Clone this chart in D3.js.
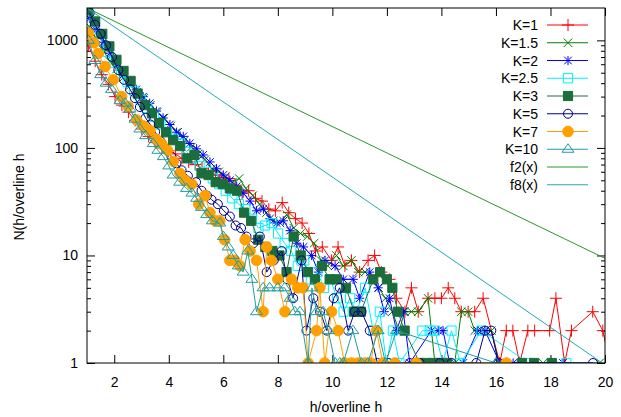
<!DOCTYPE html>
<html>
<head>
<meta charset="utf-8">
<script src="https://cdn.jsdelivr.net/npm/d3@7"></script>
<style>
  body { margin: 0; background: #fff; }
  text { font-family: "Liberation Sans", Arial, sans-serif; font-size: 14px; fill: #000; }
</style>
</head>
<body>
<div id="chart"></div>
<script>
// data: [h/overline h, N] pairs, zero bins left out
var k1 = [[1.05,900],[1.30,640],[1.54,480],[1.79,390],[2.03,300],[2.28,250],[2.52,215],[2.77,180],[3.01,150],[3.26,128],[3.50,112],[3.75,100],[3.99,94],[4.24,88],[4.48,80],[4.73,74],[4.97,70],[5.22,64],[5.46,58],[5.71,56],[5.95,53],[6.20,52],[6.44,45],[6.69,38],[6.93,40],[7.18,34],[7.42,32],[7.67,27],[7.91,26],[8.16,31],[8.40,25],[8.65,22],[8.89,20],[9.14,16],[9.38,11],[9.63,12],[9.97,9],[10.21,12],[10.46,8],[10.70,9],[11.00,7],[11.31,9],[11.55,10],[11.80,7],[12.10,6],[12.35,4],[12.66,3],[12.90,5],[13.15,3],[13.51,4],[13.76,4],[14.00,4],[14.25,5],[14.49,4],[14.73,3],[14.98,3],[15.22,3],[15.53,4],[16.14,1],[16.38,2],[16.62,2],[16.87,1],[17.17,2],[17.42,2],[17.97,2],[18.20,4],[18.52,1],[18.77,2],[19.55,3],[19.92,2],[20.17,1]];
var k15 = [[1.08,1350],[1.33,1050],[1.58,820],[1.83,640],[2.08,540],[2.33,450],[2.58,380],[2.83,330],[3.08,290],[3.33,250],[3.58,215],[3.83,190],[4.08,160],[4.33,140],[4.58,118],[4.83,102],[5.08,88],[5.33,78],[5.58,64],[5.83,60],[6.08,54],[6.33,48],[6.58,52],[6.83,42],[7.08,36],[7.33,30],[7.58,25],[7.83,21],[8.08,20],[8.33,24],[8.58,18],[8.83,16],[9.08,15],[9.33,13],[9.58,9],[9.83,8],[10.15,10],[10.40,8],[10.70,9],[10.95,7],[11.20,7],[11.45,6],[11.70,5],[11.95,4],[12.20,3],[12.45,2],[12.65,3],[12.90,3],[13.15,3],[13.51,4],[13.76,1],[14.49,1],[14.73,3],[14.98,3],[15.22,2],[15.47,2],[15.83,2],[16.10,1],[17.73,1],[19.80,1]];
var k2 = [[1.10,1600],[1.34,1250],[1.59,960],[1.83,760],[2.08,600],[2.32,500],[2.57,420],[2.81,350],[3.06,300],[3.30,260],[3.55,220],[3.79,190],[4.04,165],[4.28,140],[4.53,128],[4.77,110],[5.02,98],[5.26,86],[5.51,74],[5.75,64],[6.00,56],[6.24,50],[6.49,44],[6.73,38],[6.98,32],[7.22,26],[7.47,27],[7.71,22],[7.96,20],[8.20,21],[8.45,17],[8.69,13],[8.94,12],[9.24,10],[9.49,7],[9.73,9],[10.10,8],[10.40,6],[10.76,6],[11.00,4],[11.37,7],[11.68,5],[11.90,3],[12.10,4],[12.35,2],[12.60,3],[12.84,1],[13.63,2],[13.88,2],[14.06,2],[14.30,1],[14.80,1],[15.33,2],[15.60,2],[16.14,1],[16.63,1],[18.46,1]];
var k25 = [[1.05,1700],[1.29,1300],[1.53,1000],[1.77,780],[2.01,620],[2.25,500],[2.49,410],[2.73,340],[2.97,280],[3.21,235],[3.45,195],[3.69,165],[3.93,140],[4.17,122],[4.41,110],[4.65,92],[4.89,80],[5.13,68],[5.37,60],[5.61,52],[5.85,46],[6.09,40],[6.33,34],[6.57,30],[6.81,27],[7.05,22],[7.29,18],[7.53,19],[7.77,20],[8.01,16],[8.25,13],[8.49,11],[8.73,8],[8.97,9],[9.21,6],[9.45,7],[9.69,5],[9.93,6],[10.17,4],[10.41,3],[10.65,4],[10.89,3],[11.20,5],[11.50,2],[11.74,3],[11.98,1],[12.22,2],[12.46,1],[13.30,2],[13.57,2],[13.76,2],[14.05,1],[14.37,2],[14.70,1],[15.47,2],[17.20,1],[18.58,1]];
var k3 = [[1.04,1900],[1.30,1500],[1.56,1150],[1.82,880],[2.08,660],[2.34,520],[2.60,420],[2.86,320],[3.12,250],[3.38,210],[3.64,170],[3.90,140],[4.16,118],[4.42,104],[4.68,80],[4.94,86],[5.20,58],[5.46,56],[5.72,48],[5.98,46],[6.24,42],[6.50,40],[6.76,25],[7.02,21],[7.28,14],[7.54,12],[7.80,11],[8.06,10],[8.32,7],[8.58,15],[8.84,10],[9.10,7],[9.36,6],[9.62,8],[9.90,6],[10.16,6],[10.50,5],[10.80,3],[11.05,3],[11.50,6],[11.75,7],[12.00,6],[12.20,5],[12.40,3],[12.65,2],[13.20,1],[13.45,1],[13.70,1],[13.95,1],[14.20,1],[16.95,1],[17.40,1],[18.05,1]];
var k5 = [[1.10,1800],[1.29,1400],[1.50,1150],[1.70,900],[1.92,700],[2.15,530],[2.36,430],[2.58,350],[2.76,290],[2.94,240],[3.15,190],[3.32,165],[3.50,141],[3.70,115],[3.90,98],[4.10,83],[4.28,72],[4.47,62],[4.70,55],[5.00,48],[5.20,40],[5.40,36],[5.57,33],[5.80,30],[6.02,26],[6.24,23],[6.45,19],[6.65,18],[6.85,15],[7.10,13],[7.34,15],[7.59,7],[7.85,9],[8.14,11],[8.35,6],[8.56,4],[8.87,9],[9.05,2],[9.30,4],[9.55,3],[9.80,2],[10.05,4],[10.27,5],[10.58,2],[10.82,3],[11.07,3],[11.37,2],[11.65,1],[12.04,1],[12.84,1],[13.20,1],[13.94,1],[14.37,1],[15.28,1],[15.60,2],[15.83,2],[16.10,1],[19.56,1]];
var k7 = [[1.05,1170],[1.25,950],[1.41,755],[1.66,570],[1.96,430],[2.27,300],[2.51,243],[2.82,182],[3.07,160],[3.31,145],[3.55,120],[3.75,108],[3.95,95],[4.17,75],[4.41,58],[4.59,50],[4.84,46],[5.10,30],[5.33,36],[5.51,25],[5.70,21],[5.87,21],[6.05,14],[6.24,9],[6.42,9],[6.61,8],[6.80,14],[6.98,11],[7.22,9],[7.46,3],[7.59,12],[7.77,9],[8.00,6],[8.26,3],[8.50,6],[8.73,5],[8.93,5],[9.11,1],[9.42,2],[9.54,5],[9.72,1],[9.97,3],[10.21,2],[10.45,1],[10.70,1],[10.95,1],[11.20,1],[11.40,1],[11.62,2],[11.85,1],[12.29,1],[13.08,1],[16.38,1]];
var k10 = [[1.05,1000],[1.29,650],[1.50,480],[1.70,400],[1.90,350],[2.21,275],[2.40,260],[2.58,230],[2.76,185],[2.94,150],[3.15,130],[3.43,110],[3.60,95],[3.80,83],[4.00,68],[4.16,56],[4.40,48],[4.65,42],[4.85,38],[5.02,34],[5.20,28],[5.39,24],[5.60,21],[5.87,20],[6.00,15],[6.18,12],[6.36,10],[6.55,8],[6.73,7],[6.90,11],[7.05,6],[7.22,3],[7.46,5],[7.70,5],[8.00,5],[8.25,5],[8.45,4],[8.62,3],[8.81,3],[9.11,1],[9.25,5],[9.42,3],[9.66,3],[9.85,2],[10.10,1],[10.27,1],[10.40,1],[10.75,2],[11.07,1],[11.30,1],[11.68,2],[11.95,1],[12.35,2],[16.00,1]];
var f2 = [[1,2000],[20,9.4]];
var f8 = [[1,2000],[20,0.96]];

var seriesLabels = ["K=1", "K=1.5", "K=2", "K=2.5", "K=3", "K=5", "K=7", "K=10", "f2(x)", "f8(x)"];
var xTicks = [2, 4, 6, 8, 10, 12, 14, 16, 18, 20];
var yTicks = [1, 10, 100, 1000];
var yMinor = [2,3,4,5,6,7,8,9,20,30,40,50,60,70,80,90,200,300,400,500,600,700,800,900];

var svgWidth = 621;
var svgHeight = 417;
var margin = { top: 8, right: 16, bottom: 54, left: 87 };
var width = svgWidth - margin.left - margin.right;
var height = svgHeight - margin.top - margin.bottom;

// marker shapes (gnuplot point types 1..8)
var shapes = {
  plus: "M-6,0H6M0,-6V6",
  cross: "M-4.2,-4.2L4.2,4.2M-4.2,4.2L4.2,-4.2",
  star: "M-4.6,0H4.6M0,-4.6V4.6M-3.8,-3.8L3.8,3.8M-3.8,3.8L3.8,-3.8",
  square: "M-4.6,-4.6H4.6V4.6H-4.6Z",
  circle: "M4.5,0A4.5,4.5 0 1,1 -4.5,0A4.5,4.5 0 1,1 4.5,0Z",
  dot: "M5.3,0A5.3,5.3 0 1,1 -5.3,0A5.3,5.3 0 1,1 5.3,0Z",
  triangle: "M0,-5.5L6,3L-6,3Z"
};

var series = [
  { data: k1, color: "#ff0000", shape: "plus", fill: false },
  { data: k15, color: "#008000", shape: "cross", fill: false },
  { data: k2, color: "#0000ff", shape: "star", fill: false },
  { data: k25, color: "#00f0ff", shape: "square", fill: false },
  { data: k3, color: "#1b6e3c", shape: "square", fill: true },
  { data: k5, color: "#00008b", shape: "circle", fill: false },
  { data: k7, color: "#ffa000", shape: "dot", fill: true },
  { data: k10, color: "#1f9ea3", shape: "triangle", fill: false },
  { data: f2, color: "#2a962a", shape: null },
  { data: f8, color: "#22aabb", shape: null }
];

var svg = d3.select("#chart")
  .append("svg")
  .attr("width", svgWidth)
  .attr("height", svgHeight)
  .style("background", "#fff");

var chartGroup = svg.append("g")
  .attr("transform", `translate(${margin.left}, ${margin.top})`);

// scales
var xScale = d3.scaleLinear().domain([1, 20]).range([0, width]);
var yScale = d3.scaleLog().domain([1, 2000]).range([height, 0]);

svg.append("defs").append("clipPath")
  .attr("id", "plotClip")
  .append("rect")
  .attr("width", width)
  .attr("height", height);

// axes (ticks point inward, mirrored on top and right)
var xAxis = d3.axisBottom(xScale).tickValues(xTicks).tickSizeInner(-8).tickSizeOuter(0).tickPadding(14);
var xAxisTop = d3.axisTop(xScale).tickValues(xTicks).tickSizeInner(-8).tickSizeOuter(0).tickFormat("");
var yAxis = d3.axisLeft(yScale).tickValues(yTicks).tickFormat(d3.format("d")).tickSizeInner(-8).tickSizeOuter(0).tickPadding(9);
var yAxisRight = d3.axisRight(yScale).tickValues(yTicks).tickSizeInner(-8).tickSizeOuter(0).tickFormat("");
var yMinorLeft = d3.axisLeft(yScale).tickValues(yMinor).tickSizeInner(-4).tickSizeOuter(0).tickFormat("");
var yMinorRight = d3.axisRight(yScale).tickValues(yMinor).tickSizeInner(-4).tickSizeOuter(0).tickFormat("");

function styleAxis(g) {
  g.select(".domain").remove();
  g.selectAll("line").attr("stroke", "#000").attr("stroke-width", 1);
  g.selectAll("text").attr("font-size", 14).attr("font-family", "Liberation Sans, Arial, sans-serif");
}

chartGroup.append("g").attr("transform", `translate(0,${height})`).call(xAxis).call(styleAxis);
chartGroup.append("g").call(xAxisTop).call(styleAxis);
chartGroup.append("g").call(yAxis).call(styleAxis);
chartGroup.append("g").attr("transform", `translate(${width},0)`).call(yAxisRight).call(styleAxis);
chartGroup.append("g").call(yMinorLeft).call(styleAxis);
chartGroup.append("g").attr("transform", `translate(${width},0)`).call(yMinorRight).call(styleAxis);

// lines and points
var line = d3.line()
  .x(d => xScale(d[0]))
  .y(d => yScale(d[1]));

var plot = chartGroup.append("g").attr("clip-path", "url(#plotClip)");

series.forEach(function (s) {
  var g = plot.append("g");
  g.append("path")
    .datum(s.data)
    .attr("d", line)
    .attr("fill", "none")
    .attr("stroke", s.color)
    .attr("stroke-width", 1);

  if (s.shape) {
    g.selectAll("path.pt")
      .data(s.data)
      .enter()
      .append("path")
      .attr("class", "pt")
      .attr("transform", d => `translate(${xScale(d[0])},${yScale(d[1])})`)
      .attr("d", shapes[s.shape])
      .attr("fill", s.fill ? s.color : "none")
      .attr("stroke", s.color)
      .attr("stroke-width", 1);
  }
});

// border
chartGroup.append("rect")
  .attr("width", width)
  .attr("height", height)
  .attr("fill", "none")
  .attr("stroke", "#000")
  .attr("stroke-width", 1);

// legend
var legend = chartGroup.append("g").attr("transform", "translate(451, 17)");
series.forEach(function (s, i) {
  var row = legend.append("g").attr("transform", `translate(0, ${i * 17.75})`);
  row.append("text")
    .attr("x", 0)
    .attr("y", 5)
    .attr("text-anchor", "end")
    .text(seriesLabels[i]);
  row.append("line")
    .attr("x1", 9).attr("x2", 50)
    .attr("y1", 0).attr("y2", 0)
    .attr("stroke", s.color)
    .attr("stroke-width", 1);
  if (s.shape) {
    row.append("path")
      .attr("transform", "translate(30,0)")
      .attr("d", shapes[s.shape])
      .attr("fill", s.fill ? s.color : "none")
      .attr("stroke", s.color)
      .attr("stroke-width", 1);
  }
});

// axis titles
svg.append("text")
  .attr("x", margin.left + width / 2)
  .attr("y", 412)
  .attr("text-anchor", "middle")
  .text("h/overline h");

svg.append("text")
  .attr("transform", "translate(24, 197) rotate(-90)")
  .attr("text-anchor", "middle")
  .text("N(h/overline h");
</script>
</body>
</html>
